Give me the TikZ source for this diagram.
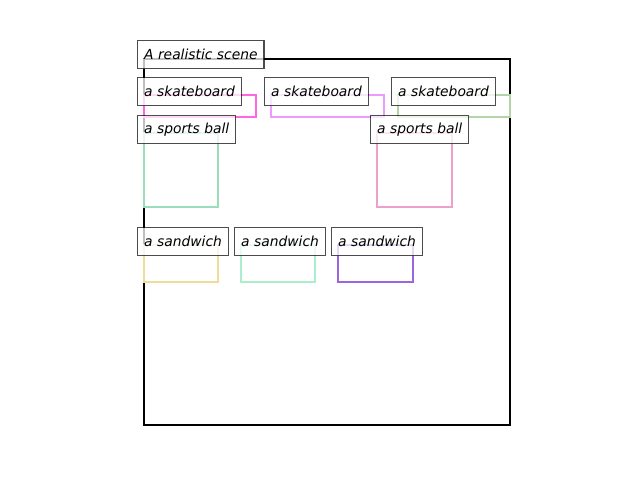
\documentclass[tikz,border=0pt]{standalone}
\usepackage{fontspec}
\setmainfont{DejaVu Sans}
\usepackage{tikz}

\definecolor{skateA}{HTML}{FF66E0}
\definecolor{skateB}{HTML}{EE99FF}
\definecolor{skateC}{HTML}{B4D4A8}
\definecolor{ballA}{HTML}{99DDBB}
\definecolor{ballB}{HTML}{EEA0CC}
\definecolor{sandA}{HTML}{EEDD99}
\definecolor{sandB}{HTML}{AAEECC}
\definecolor{sandC}{HTML}{9966DD}

\tikzset{
    label box/.style={draw=black, draw opacity=0.7, line width=1pt, fill=white, fill opacity=0.75,
        text opacity=1, anchor=north west, inner xsep=0.065in, inner ysep=0pt,
        minimum height=0.28in, font=\itshape\fontsize{10}{12}\selectfont},
    obj box/.style={line width=1.6pt}
}

\begin{document}
\begin{tikzpicture}[x=0.01in,y=-0.01in]
                \useasboundingbox (0,0) rectangle (640,480);
                \draw[line width=1.6pt]
                    (144,59) rectangle (510,425);
                % boxes
                \draw[obj box,skateA] (144,95) rectangle (256,117);
                \draw[obj box,skateB] (271,95) rectangle (384,117);
                \draw[obj box,skateC] (398,95) rectangle (510,117);
                \draw[obj box,ballA] (144,133) rectangle (218,207);
                \draw[obj box,ballB] (377,133) rectangle (452,207);
                \draw[obj box,sandA] (144,245) rectangle (218,282);
                \draw[obj box,sandB] (241,245) rectangle (315,282);
                \draw[obj box,sandC] (338,245) rectangle (413,282);
                % labels
                \node[label box] (scene) at (137,40) {A realistic scene};
                \node[label box] (skate1) at (137,77) {a skateboard};
                \node[label box] (skate2) at (264,77) {a skateboard};
                \node[label box] (skate3) at (391,77) {a skateboard};
                \node[label box] (ball1) at (137,115) {a sports ball};
                \node[label box] (ball2) at (370,115) {a sports ball};
                \node[label box] (sand1) at (137,227) {a sandwich};
                \node[label box] (sand2) at (234,227) {a sandwich};
                \node[label box] (sand3) at (331,227) {a sandwich};
            \end{tikzpicture}
\end{document}
